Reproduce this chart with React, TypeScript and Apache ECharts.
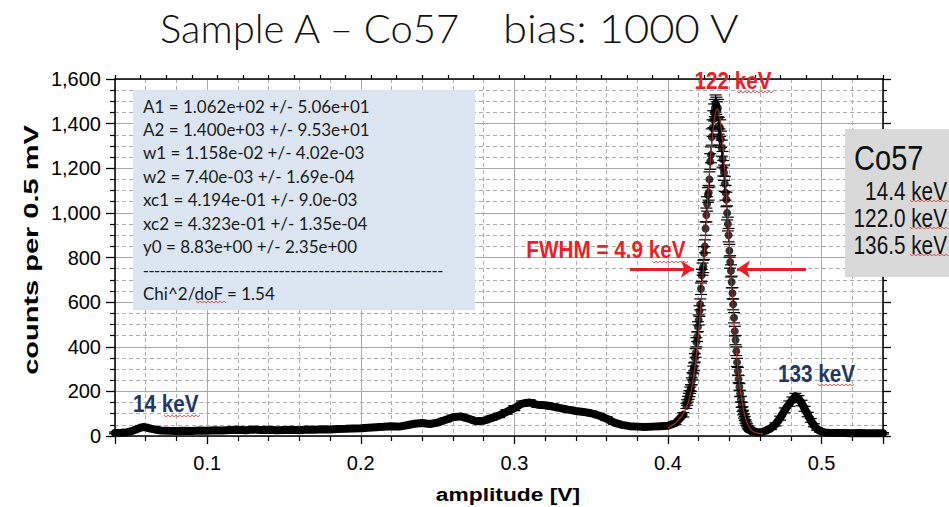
import React, { useEffect, useRef } from 'react';
import * as echarts from 'echarts';

// ---- measured spectrum (amplitude [V], counts per 0.5 mV) ----
const lowX = [0.040, 0.044, 0.048, 0.051, 0.054, 0.057, 0.059, 0.061, 0.064, 0.067, 0.070, 0.075, 0.080, 0.085, 0.090, 0.095, 0.100, 0.105, 0.110, 0.115, 0.120, 0.125, 0.130, 0.135, 0.140, 0.145, 0.150, 0.155, 0.160, 0.165, 0.170, 0.175, 0.180, 0.185, 0.190, 0.195, 0.200, 0.205, 0.210, 0.215, 0.220, 0.225, 0.230, 0.235, 0.240, 0.245, 0.250, 0.255, 0.260, 0.265, 0.270, 0.275, 0.280, 0.285, 0.290, 0.295, 0.300, 0.305, 0.310, 0.315, 0.320, 0.325, 0.330, 0.335, 0.340, 0.345, 0.350, 0.355, 0.360, 0.365, 0.370, 0.375, 0.380, 0.385, 0.390, 0.395, 0.400, 0.405, 0.410];
const lowY = [14, 15, 17, 22, 30, 38, 40, 37, 32, 28, 25, 23, 22, 24, 22, 25, 24, 26, 25, 27, 28, 26, 29, 27, 28, 26, 27, 28, 26, 29, 28, 30, 29, 31, 32, 34, 35, 37, 39, 41, 44, 42, 48, 55, 58, 54, 60, 72, 84, 88, 78, 66, 68, 80, 92, 108, 125, 145, 150, 140, 138, 132, 125, 118, 112, 108, 102, 92, 78, 60, 50, 44, 42, 40, 42, 44, 46, 58, 95];

const peakX = [0.4120, 0.4125, 0.4130, 0.4135, 0.4140, 0.4145, 0.4150, 0.4155, 0.4160, 0.4165, 0.4170, 0.4175, 0.4180, 0.4185, 0.4190, 0.4195, 0.4200, 0.4205, 0.4210, 0.4215, 0.4220, 0.4225, 0.4230, 0.4235, 0.4240, 0.4245, 0.4250, 0.4255, 0.4260, 0.4265, 0.4270, 0.4275, 0.4280, 0.4285, 0.4290, 0.4295, 0.4300, 0.4305, 0.4310, 0.4315, 0.4320, 0.4325, 0.4330, 0.4335, 0.4340, 0.4345, 0.4350, 0.4355, 0.4360, 0.4365, 0.4370, 0.4375, 0.4380, 0.4385, 0.4390, 0.4395, 0.4400, 0.4405, 0.4410, 0.4415, 0.4420, 0.4425, 0.4430, 0.4435, 0.4440, 0.4445, 0.4450, 0.4455, 0.4460, 0.4465, 0.4470, 0.4475, 0.4480, 0.4485, 0.4490, 0.4495, 0.4500, 0.4505, 0.4510, 0.4515, 0.4520, 0.4525, 0.4530, 0.4535, 0.4540, 0.4545, 0.4550];
const peakY = [135, 150, 165, 178, 190, 205, 215, 245, 268, 296, 310, 350, 372, 420, 445, 490, 520, 560, 590, 660, 720, 748, 760, 820, 850, 930, 990, 1040, 1080, 1090, 1150, 1230, 1260, 1340, 1380, 1420, 1450, 1470, 1490, 1480, 1460, 1470, 1390, 1340, 1380, 1330, 1290, 1240, 1200, 1180, 1130, 1090, 1060, 1000, 950, 900, 830, 780, 740, 690, 640, 590, 530, 470, 430, 380, 330, 290, 255, 220, 190, 165, 140, 120, 105, 90, 78, 65, 56, 48, 40, 35, 30, 26, 23, 21, 19];

const highX = [0.455, 0.458, 0.461, 0.464, 0.467, 0.470, 0.473, 0.476, 0.479, 0.481, 0.483, 0.485, 0.487, 0.489, 0.491, 0.493, 0.495, 0.497, 0.499, 0.502, 0.506, 0.510, 0.515, 0.520, 0.525, 0.530, 0.535, 0.540];
const highY = [24, 17, 18, 24, 35, 52, 80, 115, 145, 162, 178, 168, 148, 122, 96, 70, 48, 32, 22, 16, 14, 13, 13, 12, 13, 12, 12, 12];

// ---- fitted double-Gaussian curve ----
const fitX = [0.400, 0.403, 0.406, 0.409, 0.412, 0.414, 0.416, 0.418, 0.420, 0.422, 0.424, 0.426, 0.428, 0.430, 0.431, 0.432, 0.433, 0.434, 0.436, 0.438, 0.440, 0.442, 0.444, 0.446, 0.448, 0.450, 0.452, 0.454, 0.456, 0.458, 0.460, 0.462];
const fitY = [35, 48, 66, 90, 128, 170, 234, 331, 467, 644, 853, 1074, 1272, 1413, 1452, 1466, 1456, 1420, 1282, 1079, 845, 618, 421, 268, 161, 92, 51, 29, 18, 13, 10.5, 9.4];

// ---- FWHM arrows (amplitude positions at half maximum) ----
const fwhmLevel = 748;
const fwhmLeft = [0.3753, 0.4169];
const fwhmRight = [0.4898, 0.4449];

// ---- texts ----
const fitParams = [
  'A1 = 1.062e+02 +/- 5.06e+01',
  'A2 = 1.400e+03 +/- 9.53e+01',
  'w1 = 1.158e-02 +/- 4.02e-03',
  'w2 = 7.40e-03 +/- 1.69e-04',
  'xc1 = 4.194e-01 +/- 9.0e-03',
  'xc2 = 4.323e-01 +/- 1.35e-04',
  'y0 = 8.83e+00 +/- 2.35e+00',
];
const separator = '-----------------------------------------------------';
const chiText = 'Chi^2/doF = 1.54';
const lineEnergies = ['14.4 keV', '122.0 keV', '136.5 keV'];

const SANS = "'Liberation Sans', Arial, sans-serif";
const CAL = "Lato, 'Open Sans', sans-serif";
const RED = '#ee1c24';
const NAVY = '#1f3864';

const zip = (xs: number[], ys: number[]) => xs.map((x, i) => [x, ys[i]]);

// red spell-check squiggle under a word
const squiggle = (x1: number, x2: number, y: number) => {
  const pts: number[][] = [];
  let k = 0;
  for (let x = x1; x <= x2; x += 2) {
    pts.push([x, y + (k % 2 === 0 ? -0.8 : 0.8)]);
    k++;
  }
  return { type: 'polyline', z: 25, shape: { points: pts }, style: { stroke: '#e0443c', lineWidth: 0.9, fill: 'none' } };
};

export default function App() {
  const ref = useRef<HTMLDivElement>(null);
  useEffect(() => {
    const chart = echarts.init(ref.current!, null, { renderer: 'svg' });
    const errItem = (params: any, api: any) => {
      const x = api.value(0);
      const y = api.value(1);
      const e = Math.sqrt(Math.max(y, 0));
      const top = api.coord([x, y + e]);
      const bot = api.coord([x, y - e]);
      const c = 6;
      const st = { stroke: '#000', lineWidth: 1.2 };
      return {
        type: 'group',
        children: [
          { type: 'line', shape: { x1: top[0], y1: top[1], x2: bot[0], y2: bot[1] }, style: st },
          { type: 'line', shape: { x1: top[0] - c, y1: top[1], x2: top[0] + c, y2: top[1] }, style: st },
          { type: 'line', shape: { x1: bot[0] - c, y1: bot[1], x2: bot[0] + c, y2: bot[1] }, style: st },
        ],
      };
    };
    const lowData = zip(lowX, lowY);
    const peakData = zip(peakX, peakY);
    const highData = zip(highX, highY);
    const allData = [...lowData, ...peakData, ...highData];

    const paramTexts = fitParams.map((t, i) => ({
      type: 'text',
      x: 143,
      y: 106 + i * 23.4,
      z: 20,
      style: { text: t, fill: '#1a1a1a', fontFamily: CAL, fontSize: 17, textAlign: 'left', textVerticalAlign: 'middle' },
    }));
    const energyTexts = lineEnergies.map((t, i) => ({
      type: 'text',
      x: 947,
      y: 191 + i * 27,
      scaleX: 0.83,
      z: 20,
      style: { text: t, fill: '#111', fontFamily: SANS, fontSize: 25, textAlign: 'right', textVerticalAlign: 'middle' },
    }));
    const ann = (text: string, x: number, y: number, fill: string, align: string) => ({
      type: 'text',
      x,
      y,
      scaleX: 0.9,
      z: 30,
      style: { text, fill, fontFamily: SANS, fontSize: 23, fontWeight: 'bold', textAlign: align, textVerticalAlign: 'middle' },
    });

    const option: any = {
      animation: false,
      backgroundColor: '#ffffff',
      textStyle: { fontFamily: SANS },
      grid: { left: 115, right: 66, top: 79, bottom: 71, containLabel: false },
      xAxis: [
        {
          type: 'value',
          position: 'bottom',
          min: 0.04,
          max: 0.54,
          splitNumber: 5,
          axisLine: { show: true, onZero: false, lineStyle: { color: '#000', width: 1.5 } },
          axisTick: { show: true, inside: false, length: 8, lineStyle: { color: '#000', width: 1.3 } },
          minorTick: { show: true, splitNumber: 5, length: 5, lineStyle: { color: '#000', width: 1.2 } },
          axisLabel: {
            show: true,
            margin: 17,
            fontSize: 20,
            color: '#000',
            showMinLabel: false,
            showMaxLabel: false,
            formatter: (v: number) => {
              const r = Math.round(v * 10) / 10;
              return Math.abs(r - v) < 1e-6 ? r.toFixed(1) : '';
            },
          },
          splitLine: { show: true, lineStyle: { color: '#a8a8a8', width: 1 } },
          minorSplitLine: { show: true, lineStyle: { color: '#adadad', width: 1, type: [4, 3] } },
        },
        {
          type: 'value',
          position: 'top',
          min: 0,
          max: 30,
          interval: 1,
          axisLine: { show: true, onZero: false, lineStyle: { color: '#000', width: 1.5 } },
          axisTick: { show: true, inside: false, length: 4, lineStyle: { color: '#000', width: 1.2 } },
          axisLabel: { show: false },
          splitLine: { show: false },
        },
      ],
      yAxis: [
        {
          type: 'value',
          position: 'left',
          min: 0,
          max: 1600,
          interval: 200,
          axisLine: { show: true, onZero: false, lineStyle: { color: '#000', width: 1.5 } },
          axisTick: { show: true, inside: false, length: 9, lineStyle: { color: '#000', width: 1.3 } },
          minorTick: { show: true, splitNumber: 4, length: 5, lineStyle: { color: '#000', width: 1.2 } },
          axisLabel: {
            margin: 14,
            fontSize: 20,
            color: '#000',
            formatter: (v: number) => v.toLocaleString('en-US'),
          },
          splitLine: { show: true, lineStyle: { color: '#a8a8a8', width: 1 } },
          minorSplitLine: { show: true, lineStyle: { color: '#adadad', width: 1, type: [4, 3] } },
        },
        {
          type: 'value',
          position: 'right',
          min: 0,
          max: 1600,
          interval: 200,
          axisLine: { show: true, onZero: false, lineStyle: { color: '#000', width: 1.5 } },
          axisTick: { show: true, inside: false, length: 8, lineStyle: { color: '#000', width: 1.3 } },
          minorTick: { show: true, splitNumber: 4, length: 4, lineStyle: { color: '#000', width: 1.2 } },
          axisLabel: { show: false },
          splitLine: { show: false },
        },
      ],
      series: [
        {
          name: 'spectrum low',
          type: 'line',
          data: lowData,
          showSymbol: false,
          lineStyle: { color: '#000', width: 8, join: 'round', cap: 'round' },
          z: 3,
        },
        {
          name: 'spectrum high',
          type: 'line',
          data: highData,
          showSymbol: false,
          lineStyle: { color: '#000', width: 8, join: 'round', cap: 'round' },
          z: 3,
        },
        {
          name: 'error bars',
          type: 'custom',
          data: allData,
          renderItem: errItem,
          z: 4,
        },
        {
          name: 'spectrum peak',
          type: 'scatter',
          data: peakData,
          symbol: 'circle',
          symbolSize: 8,
          itemStyle: { color: '#000' },
          z: 5,
        },
        {
          name: 'fit',
          type: 'line',
          data: zip(fitX, fitY),
          smooth: 0.3,
          showSymbol: false,
          lineStyle: { color: '#a93226', width: 1.1 },
          z: 6,
          markLine: {
            silent: true,
            symbol: ['none', 'arrow'],
            symbolSize: 13,
            label: { show: false },
            lineStyle: { color: RED, width: 3, type: 'solid' },
            data: [
              [{ coord: [fwhmLeft[0], fwhmLevel] }, { coord: [fwhmLeft[1], fwhmLevel] }],
              [{ coord: [fwhmRight[0], fwhmLevel] }, { coord: [fwhmRight[1], fwhmLevel] }],
            ],
          },
        },
      ],
      graphic: [
        {
          type: 'text', x: 160, y: 28, z: 20,
          style: { text: 'Sample A – Co57', fill: '#111', fontFamily: CAL, fontSize: 40, fontWeight: 300, textAlign: 'left', textVerticalAlign: 'middle' },
        },
        {
          type: 'text', x: 503, y: 28, z: 20, scaleX: 1.09,
          style: { text: 'bias: 1000 V', fill: '#111', fontFamily: CAL, fontSize: 40, fontWeight: 300, textAlign: 'left', textVerticalAlign: 'middle' },
        },
        // axis titles
        {
          type: 'text', x: 508, y: 494, z: 20, scaleX: 1.2,
          style: { text: 'amplitude [V]', fill: '#000', fontFamily: SANS, fontSize: 19, fontWeight: 'bold', textAlign: 'center', textVerticalAlign: 'middle' },
        },
        {
          type: 'text', x: 31, y: 250, z: 20, rotation: Math.PI / 2, scaleX: 1.38,
          style: { text: 'counts per 0.5 mV', fill: '#000', fontFamily: SANS, fontSize: 21, fontWeight: 'bold', textAlign: 'center', textVerticalAlign: 'middle' },
        },
        // fit result box
        { type: 'rect', z: 15, shape: { x: 133, y: 90, width: 342, height: 220 }, style: { fill: '#dce6f2' } },
        ...paramTexts,
        {
          type: 'text', x: 143, y: 270, z: 20,
          style: { text: separator, fill: '#1a1a1a', fontFamily: SANS, fontSize: 17, textAlign: 'left', textVerticalAlign: 'middle' },
        },
        {
          type: 'text', x: 143, y: 293, z: 20,
          style: { text: chiText, fill: '#1a1a1a', fontFamily: CAL, fontSize: 17, textAlign: 'left', textVerticalAlign: 'middle' },
        },
        squiggle(196, 226, 302),
        // Co57 line box
        { type: 'rect', z: 15, shape: { x: 845, y: 129, width: 110, height: 148 }, style: { fill: '#d9d9d9' } },
        {
          type: 'text', x: 854, y: 158, scaleX: 0.83, z: 20,
          style: { text: 'Co57', fill: '#111', fontFamily: SANS, fontSize: 35, textAlign: 'left', textVerticalAlign: 'middle' },
        },
        ...energyTexts,
        squiggle(910, 948, 201),
        squiggle(910, 948, 228),
        squiggle(910, 948, 255),
        // peak annotations
        ann('122 keV', 733, 81, RED, 'center'),
        ann('FWHM = 4.9 keV', 606, 250, RED, 'center'),
        ann('14 keV', 133, 404, NAVY, 'left'),
        ann('133 keV', 778, 374, NAVY, 'left'),
        squiggle(737, 773, 92),
        squiggle(652, 689, 262),
        squiggle(164, 201, 416),
        squiggle(818, 855, 385),
      ],
    };
    chart.setOption(option);
    return () => chart.dispose();
  }, []);
  return <div ref={ref} style={{ position: 'absolute', left: 0, top: 0, width: 949, height: 507, background: '#fff' }} />;
}
